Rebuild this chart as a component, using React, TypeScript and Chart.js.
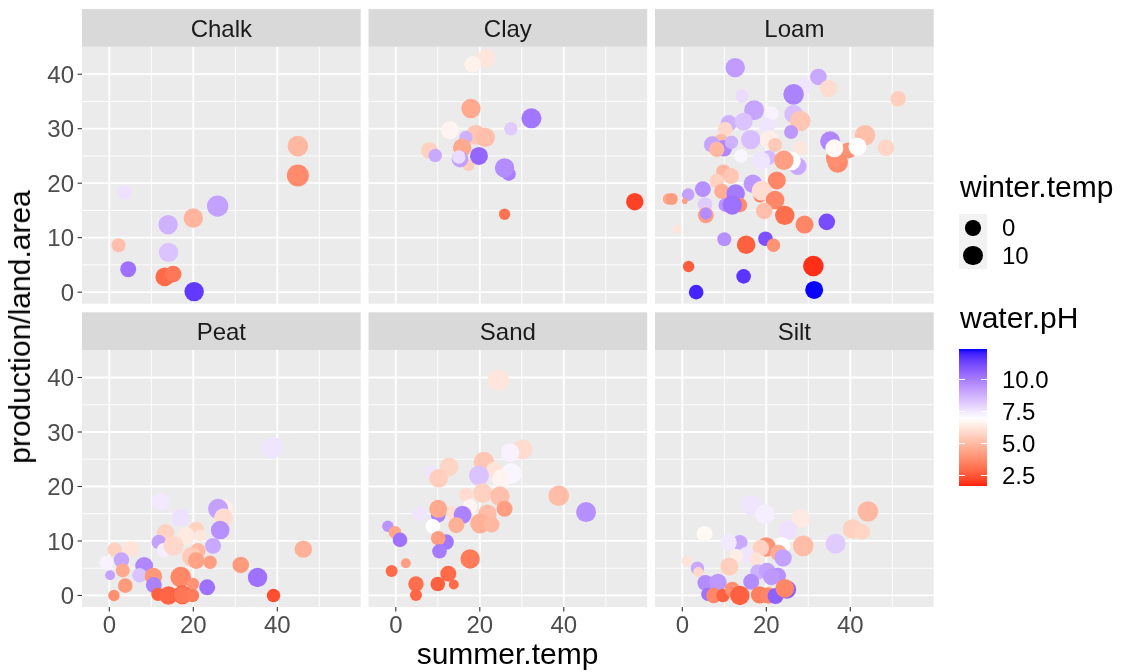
import { useEffect, useRef } from "react";
import { Chart, registerables } from "chart.js";

Chart.register(...registerables);

// ---------- data: one set of arrays per soil type ----------
const soils = ["Chalk", "Clay", "Loam", "Peat", "Sand", "Silt"];

const chalkSummer = [44.9, 44.9, 3.7, 25.8, 20.0, 14.0, 2.2, 14.1, 4.5, 13.2, 15.2, 20.2];
const chalkProduction = [26.8, 21.4, 18.3, 15.8, 13.6, 12.4, 8.6, 7.3, 4.2, 2.8, 3.3, 0.1];
const chalkWinter = [13.8, 18.7, -2.1, 16.5, 10.1, 10.1, -3.3, 10.1, 0.9, 7.7, 2.4, 10.1];
const chalkPH = [5.0, 3.8, 7.7, 9.2, 4.9, 8.8, 5.2, 8.4, 10.3, 3.0, 3.3, 11.6];

const claySummer = [21.6, 18.3, 17.9, 32.3, 12.9, 27.4, 17.3, 19.1, 21.3, 16.7, 15.8, 8.0, 9.4, 15.3, 15.0, 19.8, 26.9, 25.9, 56.9, 25.9];
const clayProduction = [42.9, 41.8, 33.7, 31.9, 29.7, 30.0, 23.3, 28.9, 28.4, 28.4, 26.5, 26.0, 25.1, 24.4, 24.8, 25.0, 21.7, 22.8, 16.6, 14.3];
const clayWinter = [7.7, 2.4, 10.1, 11.9, 6.0, -4.4, -6.8, 11.9, 10.1, -4.4, 7.7, 2.4, -4.4, 2.4, -4.4, 6.0, -3.3, 10.1, 4.4, -7.6];
const clayPH = [6.3, 6.6, 4.6, 10.2, 6.7, 8.2, 5.6, 5.4, 5.2, 8.8, 4.6, 5.7, 9.0, 9.2, 7.8, 10.6, 10.0, 9.7, 2.2, 3.2];

const loamSummer = [
  12.6, 32.4, 28.7, 34.8, 51.4, 14.2, 26.5, 17.1, 21.2, 26.5, 28.1, 11.1, 14.6, 20.1, 10.2, 25.9,
  16.3, 20.7, 9.2, 7.1, 9.9, 11.7, 8.2, 35.2, 43.5, 48.5, 39.5, 37.0, 36.4, 36.2, 41.7, 28.1,
  22.1, 14.0, 20.6, 18.7, 27.5, 26.0, 24.2, 9.8, 11.6, 8.2, 22.5, 16.8, 18.5, 18.9, 9.4, 4.9,
  1.4, -3.3, -2.5, 0.6, 12.7, 10.2, 13.7, 11.9, 22.1, 5.4, 5.6, 5.6, 19.5, 24.4, 29.1, 34.4,
  -1.2, 10.0, 15.2, 19.8, 21.7, 1.5, 31.2, 14.6, 3.3, 31.4,
];
const loamProduction = [
  41.2, 39.5, 37.7, 37.4, 35.5, 36.0, 36.3, 33.4, 32.8, 32.7, 31.4, 31.0, 31.3, 30.5, 29.9, 29.4,
  28.0, 28.0, 27.6, 27.1, 26.4, 27.5, 26.2, 27.7, 28.8, 26.5, 26.0, 23.8, 24.6, 26.4, 26.7, 26.5,
  27.0, 25.0, 24.7, 24.1, 23.1, 24.1, 24.2, 22.1, 21.3, 20.4, 20.5, 19.9, 17.7, 18.6, 18.5, 18.9,
  17.9, 17.1, 17.1, 16.7, 18.1, 16.0, 16.0, 16.0, 16.9, 16.1, 14.1, 14.4, 14.9, 14.1, 12.4, 12.9,
  11.6, 9.7, 8.7, 9.8, 8.6, 4.7, 4.8, 2.9, 0.0, 0.4,
];
const loamWinter = [
  10.1, 2.4, 4.4, 4.4, -0.4, -4.4, 13.8, 11.9, -2.1, 7.7, 13.8, 2.4, 6.0, 2.4, -2.1, -3.3,
  10.1, 7.7, -0.4, 2.4, 2.4, -4.4, -0.4, 11.9, 13.8, 2.4, 0.9, 13.8, 7.7, 6.0, 6.0, -4.4,
  -3.3, -4.4, -2.1, 7.7, 4.4, 7.7, 10.1, -2.1, 0.9, -2.1, 6.0, 7.7, -4.4, 11.9, -0.4, 0.9,
  -5.8, -7.6, -6.8, -12.2, 7.7, -4.4, -2.1, 10.1, 7.7, -2.1, 0.9, -6.8, 2.4, 10.1, 6.0, 2.4,
  -10.7, -3.3, 7.7, -2.1, -4.4, -7.6, 13.8, -2.1, -2.1, 6.0,
];
const loamPH = [
  9.3, 9.0, 7.6, 6.0, 5.6, 7.8, 9.9, 9.1, 7.3, 8.5, 5.4, 8.8, 8.4, 7.6, 5.9, 9.4,
  8.5, 6.5, 5.1, 9.1, 9.8, 8.8, 5.0, 9.8, 5.2, 5.8, 4.0, 3.8, 3.9, 6.8, 7.0, 6.3,
  5.5, 7.2, 8.6, 7.6, 9.0, 7.0, 4.3, 5.0, 5.4, 5.7, 3.7, 9.4, 3.5, 6.0, 4.7, 9.6,
  9.2, 4.5, 4.2, 4.3, 10.1, 9.5, 3.8, 10.3, 3.7, 8.2, 4.3, 9.7, 5.2, 3.1, 3.7, 11.2,
  6.2, 9.6, 2.8, 11.1, 4.0, 2.7, 1.9, 11.7, 12.0, 12.4,
];

const peatSummer = [
  38.9, 12.2, 17.0, 27.1, 25.9, 27.2, 26.4, 20.7, 13.4, 18.3, 21.7, 11.8, 13.0, 15.3, 21.1, 19.6,
  20.7, 24.7, 24.0, 1.3, 5.2, 2.9, -0.7, 0.2, 3.2, 8.3, 7.2, 10.5, 10.6, 3.8, 1.1, 17.0,
  19.9, 23.3, 11.6, 14.1, 17.4, 17.4, 19.8, 31.3, 35.3, 39.1, 46.2,
];
const peatProduction = [
  27.1, 17.2, 14.3, 15.9, 15.9, 14.3, 12.0, 12.0, 11.5, 10.9, 11.0, 9.8, 8.3, 9.1, 8.2, 7.1,
  6.4, 9.1, 6.1, 8.4, 8.5, 6.5, 6.0, 3.7, 4.6, 5.4, 3.7, 3.5, 1.9, 1.8, 0.0, 3.4,
  2.1, 1.5, 0.2, 0.0, 0.1, 0.1, 0.0, 5.6, 3.3, 0.0, 8.5,
];
const peatWinter = [
  16.5, 6.0, 6.0, 11.9, 11.9, 7.7, 7.7, 2.4, 4.4, 6.0, -6.8, -2.1, -2.1, 11.9, -0.4, 10.1,
  2.4, 0.9, -4.4, -2.1, 0.9, -0.4, -3.3, -9.4, -3.3, 6.0, -2.1, 4.4, 0.9, -2.1, -7.6, 13.8,
  -5.8, 0.9, -4.4, 7.7, 7.7, 4.4, -4.4, 2.4, 10.1, -4.4, 4.4,
];
const peatPH = [
  7.6, 7.5, 7.7, 6.5, 9.2, 6.0, 9.6, 5.7, 5.7, 6.4, 6.3, 9.2, 7.4, 5.9, 5.0, 5.5,
  4.4, 9.0, 4.3, 5.7, 6.2, 9.1, 7.3, 9.2, 4.6, 9.8, 8.4, 4.1, 9.9, 4.2, 3.9, 3.7,
  4.0, 10.3, 2.8, 2.9, 2.5, 3.3, 3.4, 4.2, 10.3, 2.4, 4.8,
];

const sandSummer = [
  24.4, 30.2, 27.2, 21.0, 23.5, 27.5, 25.1, 19.8, 12.7, 8.4, 10.2, 20.7, 24.8, 16.7, 38.8, 45.3,
  25.9, 17.6, 21.8, 5.6, 13.3, 10.1, 10.1, 15.9, 14.4, 20.1, 22.8, 8.8, -1.9, -0.2, 1.0, 12.0,
  10.1, 10.4, 17.7, 2.4, -1.0, 12.5, 4.8, 10.0, 13.8, 4.8,
];
const sandProduction = [
  39.5, 26.8, 26.2, 24.5, 23.0, 22.4, 21.4, 22.0, 23.6, 22.6, 21.5, 18.8, 18.2, 18.5, 18.3, 15.3,
  15.9, 16.3, 15.0, 15.0, 15.2, 14.7, 15.9, 14.8, 12.9, 13.2, 13.0, 12.7, 12.7, 11.6, 10.2, 9.8,
  10.5, 8.1, 6.7, 5.9, 4.5, 4.0, 2.1, 2.1, 2.0, 0.1,
];
const sandWinter = [
  16.5, 11.9, 7.7, 13.8, 2.4, 13.8, 7.7, 11.9, 7.7, -2.1, 7.7, 10.1, 10.1, -3.3, 13.8, 11.9,
  0.9, -2.1, 7.7, -2.1, -3.3, -2.1, 6.0, 6.0, 0.9, 11.9, 0.9, -2.1, -7.6, -5.8, -2.1, -0.4,
  -2.1, -2.1, 10.1, -9.4, -6.8, 0.9, -0.4, -2.1, -9.4, -6.8,
];
const sandPH = [
  6.3, 6.0, 7.3, 5.4, 6.2, 7.2, 6.7, 8.4, 5.8, 7.6, 5.6, 5.7, 5.2, 6.0, 5.1, 9.6,
  4.3, 6.7, 5.1, 7.6, 6.1, 9.9, 4.6, 9.9, 4.8, 4.8, 5.0, 7.0, 9.5, 4.5, 10.3, 10.2,
  4.3, 10.1, 3.4, 4.3, 3.0, 3.0, 3.1, 2.8, 3.0, 2.9,
];

const siltSummer = [
  44.2, 40.5, 42.8, 36.5, 16.4, 19.7, 28.2, 25.2, 5.3, 13.7, 11.0, 28.8, 23.6, 20.0, 18.7, 22.9,
  24.0, 15.3, 12.9, 17.6, 11.2, 1.1, 3.6, 3.8, 18.0, 20.2, 22.8, 21.2, 16.4, 5.5, 8.5, 6.1,
  7.5, 9.7, 11.9, 13.7, 18.4, 20.4, 22.2, 24.9, 24.4,
];
const siltProduction = [
  15.4, 12.2, 11.7, 9.5, 16.6, 14.9, 14.1, 12.0, 11.3, 9.7, 9.7, 9.1, 9.1, 8.9, 8.7, 7.8,
  6.9, 7.4, 7.3, 6.7, 5.3, 6.3, 5.0, 4.3, 4.3, 4.5, 3.6, 3.4, 2.5, 2.3, 2.4, 0.2,
  0.0, 0.0, 1.1, 0.0, 0.1, 0.0, -0.1, 1.1, 1.3,
];
const siltWinter = [
  13.8, 10.1, 0.9, 11.9, 11.9, 11.9, 7.7, 10.1, 0.9, -0.4, 2.4, 13.8, 6.0, 10.1, 2.4, 2.4,
  4.4, 2.4, -4.4, -4.4, 6.0, -8.7, -4.4, -9.4, -0.4, 2.4, 0.9, 2.4, 0.9, 0.9, 4.4, -4.4,
  -0.4, -4.4, -0.4, 10.1, 4.4, 2.4, 0.9, 7.7, 7.7,
];
const siltPH = [
  5.0, 5.7, 5.8, 8.2, 7.6, 7.4, 6.4, 7.7, 6.8, 9.0, 7.5, 5.1, 7.0, 4.0, 5.7, 4.7,
  9.2, 7.6, 6.5, 6.2, 5.6, 6.2, 9.0, 5.9, 8.8, 9.2, 9.6, 9.4, 9.7, 9.7, 9.4, 10.3,
  3.7, 2.8, 3.9, 2.8, 3.5, 3.7, 10.7, 10.7, 3.7,
];

const summerTicks = [0, 20, 40];
const summerMinor = [10, 30, 50];
const productionTicks = [0, 10, 20, 30, 40];
const productionMinor = [5, 15, 25, 35];
const winterBreaks = [0, 10];
const phBreaks = [2.5, 5.0, 7.5, 10.0];

const facets = [
  { summer: chalkSummer, production: chalkProduction, winter: chalkWinter, ph: chalkPH },
  { summer: claySummer, production: clayProduction, winter: clayWinter, ph: clayPH },
  { summer: loamSummer, production: loamProduction, winter: loamWinter, ph: loamPH },
  { summer: peatSummer, production: peatProduction, winter: peatWinter, ph: peatPH },
  { summer: sandSummer, production: sandProduction, winter: sandWinter, ph: sandPH },
  { summer: siltSummer, production: siltProduction, winter: siltWinter, ph: siltPH },
];

// ---------- scales ----------
const X_LIMITS = [-6.5, 59.86];
const Y_LIMITS = [-2.12, 45.05];
const PH_LIMITS = [1.74, 12.42];
const PH_MID = 7;
const WINTER_LIMITS = [-12.3, 18.7];
const RADIUS_RANGE = [2.32, 11];

// ---------- layout ----------
const W = 1136;
const H = 672;
const COL_LEFT = [82, 368.5, 655];
const PANEL_W = 278.7;
const ROW_TOP = [46.7, 350];
const PANEL_H = 257;
const STRIP_H = 37.7;
const FONT = '"Liberation Sans", Arial, Helvetica, sans-serif';

// sRGB <-> CIE Lab helpers for the diverging colour scale
function toLinear(c: number) {
  const v = c / 255;
  return v <= 0.04045 ? v / 12.92 : Math.pow((v + 0.055) / 1.055, 2.4);
}
function fromLinear(v: number) {
  const c = v <= 0.0031308 ? 12.92 * v : 1.055 * Math.pow(v, 1 / 2.4) - 0.055;
  return Math.round(Math.min(1, Math.max(0, c)) * 255);
}
function rgbToLab([r8, g8, b8]: number[]) {
  const r = toLinear(r8), g = toLinear(g8), b = toLinear(b8);
  const X = (0.4124564 * r + 0.3575761 * g + 0.1804375 * b) / 0.95047;
  const Y = 0.2126729 * r + 0.7151522 * g + 0.072175 * b;
  const Z = (0.0193339 * r + 0.119192 * g + 0.9503041 * b) / 1.08883;
  const f = (t: number) => (t > 0.008856 ? Math.cbrt(t) : 7.787 * t + 16 / 116);
  const fx = f(X), fy = f(Y), fz = f(Z);
  return [116 * fy - 16, 500 * (fx - fy), 200 * (fy - fz)];
}
function labToRgb([L, a, bb]: number[]) {
  const fy = (L + 16) / 116;
  const fx = fy + a / 500;
  const fz = fy - bb / 200;
  const inv = (f: number) => (f * f * f > 0.008856 ? f * f * f : (f - 16 / 116) / 7.787);
  const X = inv(fx) * 0.95047, Y = inv(fy), Z = inv(fz) * 1.08883;
  const r = 3.2404542 * X - 1.5371385 * Y - 0.4985314 * Z;
  const g = -0.969266 * X + 1.8760108 * Y + 0.041556 * Z;
  const b = 0.0556434 * X - 0.2040259 * Y + 1.0572252 * Z;
  return [fromLinear(r), fromLinear(g), fromLinear(b)];
}
const LAB_LOW = rgbToLab([255, 0, 0]);
const LAB_MID = rgbToLab([255, 255, 255]);
const LAB_HIGH = rgbToLab([0, 0, 255]);

function phColour(v: number) {
  const half = Math.max(PH_LIMITS[1] - PH_MID, PH_MID - PH_LIMITS[0]);
  const u = Math.min(1, Math.max(0, 0.5 + (v - PH_MID) / (2 * half)));
  let lab: number[];
  if (u <= 0.5) {
    const s = u / 0.5;
    lab = LAB_LOW.map((c, i) => c + (LAB_MID[i] - c) * s);
  } else {
    const s = (u - 0.5) / 0.5;
    lab = LAB_MID.map((c, i) => c + (LAB_HIGH[i] - c) * s);
  }
  const [r, g, b] = labToRgb(lab);
  return `rgb(${r},${g},${b})`;
}

function pointRadius(w: number) {
  const t = Math.min(1, Math.max(0, (w - WINTER_LIMITS[0]) / (WINTER_LIMITS[1] - WINTER_LIMITS[0])));
  return RADIUS_RANGE[0] + (RADIUS_RANGE[1] - RADIUS_RANGE[0]) * Math.sqrt(t);
}

// panel background, grid, strip and outer axes
const facetFrame = {
  id: "facetFrame",
  beforeDraw(chart: any, _args: any, opts: any) {
    const { ctx, chartArea: a } = chart;
    const xs = chart.scales.x;
    const ys = chart.scales.y;
    ctx.save();
    ctx.fillStyle = "#EBEBEB";
    ctx.fillRect(a.left, a.top, a.right - a.left, a.bottom - a.top);

    const vLine = (v: number, lw: number) => {
      const p = xs.getPixelForValue(v);
      ctx.lineWidth = lw;
      ctx.beginPath();
      ctx.moveTo(p, a.top);
      ctx.lineTo(p, a.bottom);
      ctx.stroke();
    };
    const hLine = (v: number, lw: number) => {
      const p = ys.getPixelForValue(v);
      ctx.lineWidth = lw;
      ctx.beginPath();
      ctx.moveTo(a.left, p);
      ctx.lineTo(a.right, p);
      ctx.stroke();
    };
    ctx.strokeStyle = "#FFFFFF";
    summerMinor.forEach((v) => vLine(v, 0.9));
    productionMinor.forEach((v) => hLine(v, 0.9));
    summerTicks.forEach((v) => vLine(v, 1.8));
    productionTicks.forEach((v) => hLine(v, 1.8));

    // strip
    ctx.fillStyle = "#D9D9D9";
    ctx.fillRect(a.left, a.top - STRIP_H, a.right - a.left, STRIP_H);
    ctx.fillStyle = "#1A1A1A";
    ctx.font = `24px ${FONT}`;
    ctx.textAlign = "center";
    ctx.textBaseline = "alphabetic";
    ctx.fillText(opts.label, (a.left + a.right) / 2, a.top - STRIP_H + 28);

    ctx.strokeStyle = "#333333";
    ctx.lineWidth = 1.1;
    if (opts.showY) {
      ctx.textAlign = "right";
      productionTicks.forEach((v) => {
        const p = ys.getPixelForValue(v);
        ctx.beginPath();
        ctx.moveTo(a.left - 4.4, p);
        ctx.lineTo(a.left, p);
        ctx.stroke();
        ctx.fillStyle = "#4D4D4D";
        ctx.fillText(String(v), a.left - 8, p + 8.6);
      });
    }
    if (opts.showX) {
      ctx.textAlign = "center";
      summerTicks.forEach((v) => {
        const p = xs.getPixelForValue(v);
        ctx.beginPath();
        ctx.moveTo(p, a.bottom);
        ctx.lineTo(p, a.bottom + 4.4);
        ctx.stroke();
        ctx.fillStyle = "#4D4D4D";
        ctx.fillText(String(v), p, a.bottom + 26.3);
      });
    }
    ctx.restore();
  },
};

function Panel({ index }: { index: number }) {
  const ref = useRef<HTMLCanvasElement | null>(null);
  useEffect(() => {
    const f = facets[index];
    const col = index % 3;
    const row = Math.floor(index / 3);
    const left = COL_LEFT[col];
    const top = ROW_TOP[row];
    const chart = new Chart(ref.current as HTMLCanvasElement, {
      type: "scatter",
      data: {
        datasets: [
          {
            data: f.summer.map((x, i) => ({ x, y: f.production[i] })),
            backgroundColor: f.ph.map(phColour),
            pointRadius: f.winter.map(pointRadius),
            pointHoverRadius: f.winter.map(pointRadius),
            borderWidth: 0,
            pointBorderWidth: 0,
          } as any,
        ],
      },
      options: {
        animation: false,
        responsive: false,
        devicePixelRatio: 1,
        events: [],
        layout: {
          padding: { left, top, right: W - (left + PANEL_W), bottom: H - (top + PANEL_H) },
        },
        scales: {
          x: { type: "linear", display: false, min: X_LIMITS[0], max: X_LIMITS[1] },
          y: { type: "linear", display: false, min: Y_LIMITS[0], max: Y_LIMITS[1] },
        },
        plugins: {
          legend: { display: false },
          tooltip: { enabled: false },
          facetFrame: { label: soils[index], showX: row === 1, showY: col === 0 },
        } as any,
      },
      plugins: [facetFrame],
    });
    return () => chart.destroy();
  }, [index]);
  return (
    <canvas
      ref={ref}
      width={W}
      height={H}
      style={{ position: "absolute", left: 0, top: 0, width: W, height: H }}
    />
  );
}

const text = (size: number, color = "#000000"): React.CSSProperties => ({
  position: "absolute",
  fontFamily: FONT,
  fontSize: size,
  lineHeight: `${size}px`,
  color,
  whiteSpace: "nowrap",
});

// colour bar geometry
const BAR_TOP = 349;
const BAR_H = 136.7;
const BAR_LEFT = 959;
const BAR_W = 27.7;
const barY = (v: number) => BAR_TOP + ((PH_LIMITS[1] - v) / (PH_LIMITS[1] - PH_LIMITS[0])) * BAR_H;

function Legend() {
  const stops: string[] = [];
  const n = 40;
  for (let i = 0; i <= n; i++) {
    const v = PH_LIMITS[0] + ((PH_LIMITS[1] - PH_LIMITS[0]) * i) / n;
    stops.push(`${phColour(v)} ${((i / n) * 100).toFixed(2)}%`);
  }
  return (
    <>
      <div style={{ ...text(30), left: 960, top: 171.6 }}>winter.temp</div>
      <div style={{ position: "absolute", left: 959, top: 214.3, width: 27.7, height: 55, background: "#F2F2F2" }} />
      {winterBreaks.map((w, i) => {
        const r = pointRadius(w);
        const cy = 228 + i * 27.5;
        return (
          <div key={w}>
            <div
              style={{
                position: "absolute",
                left: 973 - r,
                top: cy - r,
                width: 2 * r,
                height: 2 * r,
                borderRadius: "50%",
                background: "#000000",
              }}
            />
            <div style={{ ...text(24), left: 1002, top: cy + 8.6 - 20.3 }}>{String(w)}</div>
          </div>
        );
      })}
      <div style={{ ...text(30), left: 960, top: 302.6 }}>water.pH</div>
      <div
        style={{
          position: "absolute",
          left: BAR_LEFT,
          top: BAR_TOP,
          width: BAR_W,
          height: BAR_H,
          background: `linear-gradient(to top, ${stops.join(", ")})`,
        }}
      />
      {phBreaks.map((v) => {
        const y = barY(v);
        return (
          <div key={v}>
            <div style={{ position: "absolute", left: BAR_LEFT, top: y - 0.5, width: 5.5, height: 1, background: "#FFFFFF" }} />
            <div style={{ position: "absolute", left: BAR_LEFT + BAR_W - 5.5, top: y - 0.5, width: 5.5, height: 1, background: "#FFFFFF" }} />
            <div style={{ ...text(24), left: 1002, top: y - 11.7 }}>{v.toFixed(1)}</div>
          </div>
        );
      })}
    </>
  );
}

export default function App() {
  return (
    <div style={{ position: "fixed", left: 0, top: 0, width: W, height: H, background: "#FFFFFF", overflow: "hidden" }}>
      {soils.map((s, i) => (
        <Panel key={s} index={i} />
      ))}
      <div style={{ ...text(30), left: 507.5, top: 638.6, transform: "translateX(-50%)" }}>summer.temp</div>
      <div
        style={{
          ...text(30),
          left: 20,
          top: 327,
          transform: "translate(-50%, -50%) rotate(-90deg)",
        }}
      >
        production/land.area
      </div>
      <Legend />
    </div>
  );
}
